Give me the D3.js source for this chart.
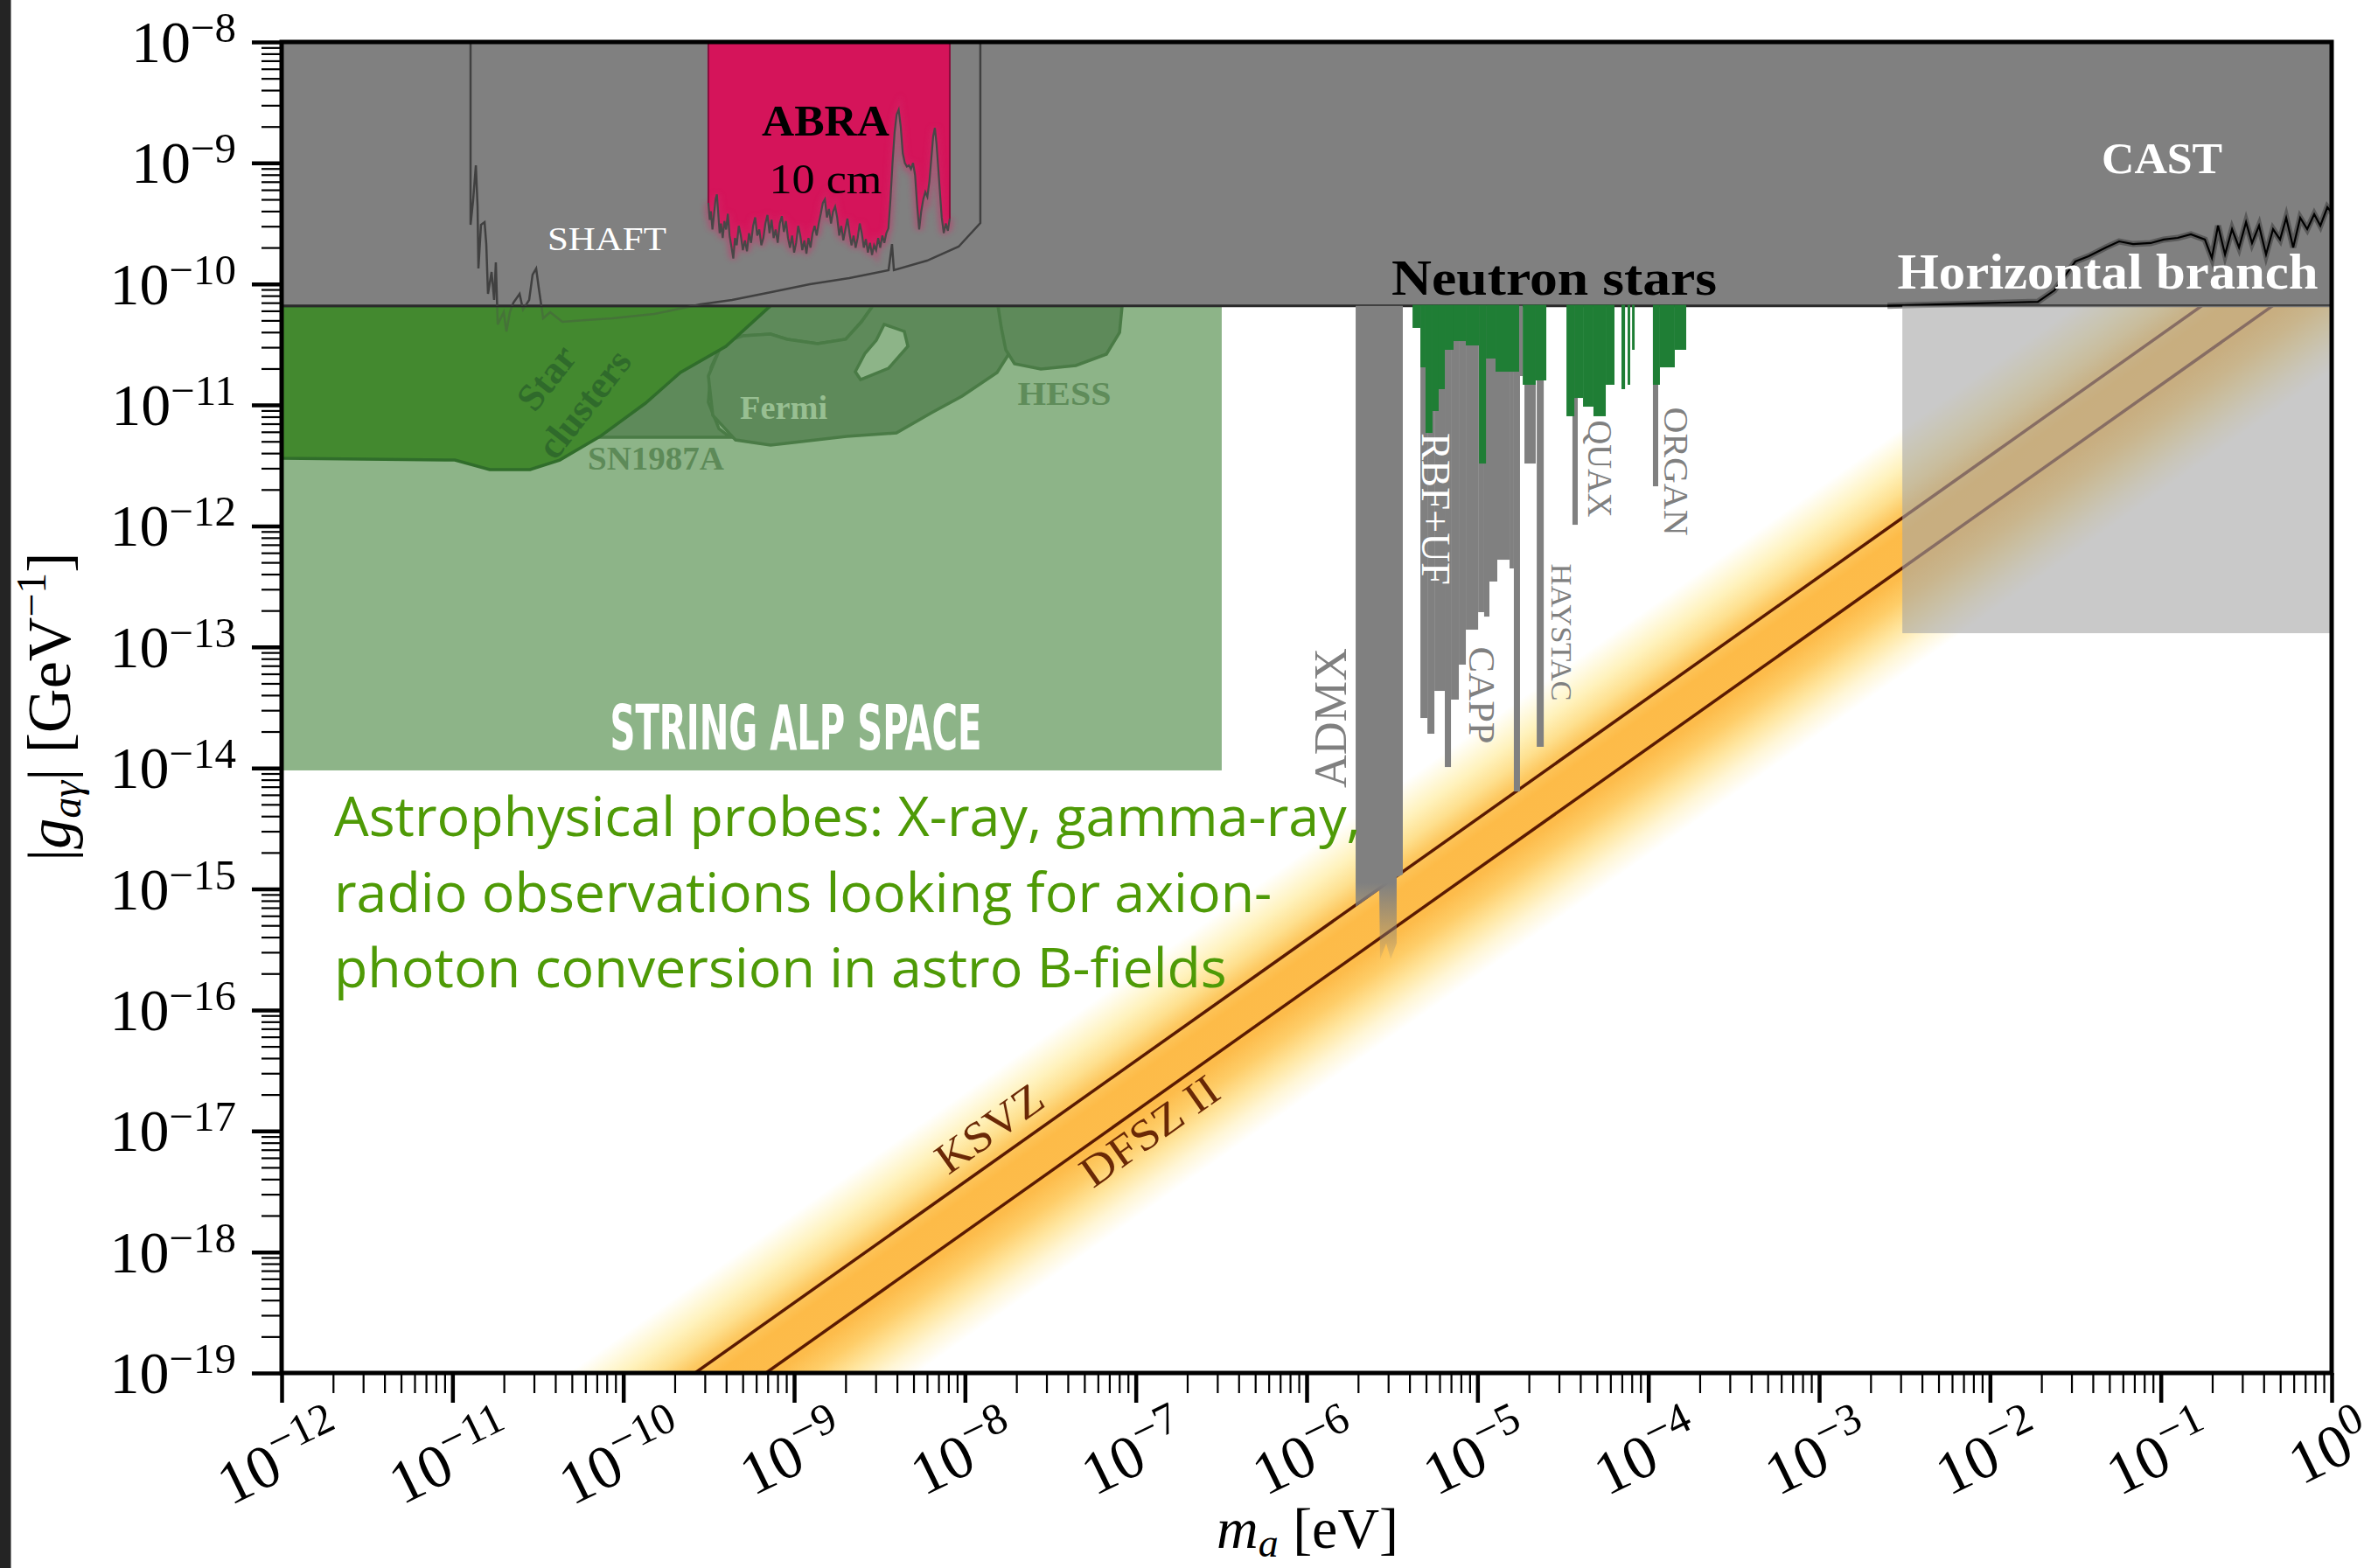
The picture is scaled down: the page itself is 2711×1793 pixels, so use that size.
<!DOCTYPE html>
<html><head><meta charset="utf-8">
<script src="https://cdn.jsdelivr.net/npm/d3@7"></script>
<style>
html,body{margin:0;padding:0;background:#fff;}
svg{display:block;}
</style></head>
<body>
<svg id="chart" width="2711" height="1793"></svg>
<script>
// ---------------------------------------------------------------
// Axion-photon coupling vs. axion mass.
// All curves are stored as [log10(m_a / eV), log10(|g| / GeV^-1)].
// ---------------------------------------------------------------
const xTickExps = [-12,-11,-10,-9,-8,-7,-6,-5,-4,-3,-2,-1,0];
const yTickExps = [-8,-9,-10,-11,-12,-13,-14,-15,-16,-17,-18,-19];

const gLimit = -10.18;                 // CAST / horizontal-branch bound, 6.6e-11
const ksvzOffset = -9.42;              // log g = log m + offset
const dfszOffset = -9.835;
const qcdBandEdges = [-8.68, -10.72];  // outer fade edges of the QCD band

const shaftCurve = [
  [-10.894,-8],[-10.894,-9.511],[-10.879,-9.308],[-10.863,-9.019],[-10.853,-9.359],
  [-10.848,-9.872],[-10.833,-9.511],[-10.812,-9.489],[-10.802,-9.670],[-10.792,-10.082],
  [-10.771,-9.901],[-10.756,-10.132],[-10.746,-9.821],[-10.735,-10.335],[-10.700,-10.233],
  [-10.684,-10.392],[-10.664,-10.233],[-10.643,-10.154],[-10.607,-10.082],[-10.587,-10.212],
  [-10.551,-10.132],[-10.531,-9.923],[-10.510,-9.872],[-10.495,-10.031],[-10.469,-10.284],
  [-10.428,-10.233],[-10.357,-10.313],[-10.218,-10.298],[-10.065,-10.284],[-9.819,-10.248],
  [-9.548,-10.168],[-9.363,-10.132],[-9.133,-10.067],[-8.908,-10.002],[-8.677,-9.951],
  [-8.447,-9.886],[-8.427,-9.670],[-8.416,-9.886],[-8.222,-9.807],[-8.037,-9.691],
  [-7.910,-9.496],[-7.910,-8]
];

const abraCurve = [
  [-9.502,-9.33],[-9.494,-9.47],[-9.487,-9.40],[-9.478,-9.55],[-9.470,-9.44],[-9.460,-9.30],
  [-9.452,-9.26],[-9.444,-9.42],[-9.436,-9.58],[-9.428,-9.50],[-9.418,-9.62],[-9.408,-9.48],
  [-9.398,-9.55],[-9.388,-9.42],[-9.378,-9.60],[-9.366,-9.70],[-9.356,-9.79],[-9.346,-9.62],
  [-9.336,-9.68],[-9.324,-9.52],[-9.312,-9.60],[-9.300,-9.72],[-9.288,-9.64],[-9.276,-9.73],
  [-9.264,-9.58],[-9.252,-9.66],[-9.240,-9.52],[-9.228,-9.45],[-9.216,-9.60],[-9.204,-9.55],
  [-9.192,-9.68],[-9.180,-9.62],[-9.168,-9.50],[-9.156,-9.43],[-9.144,-9.58],[-9.132,-9.47],
  [-9.120,-9.62],[-9.108,-9.55],[-9.096,-9.66],[-9.084,-9.50],[-9.072,-9.44],[-9.060,-9.57],
  [-9.048,-9.48],[-9.036,-9.62],[-9.024,-9.70],[-9.012,-9.60],[-9.000,-9.74],[-8.988,-9.66],
  [-8.976,-9.52],[-8.964,-9.60],[-8.952,-9.72],[-8.940,-9.64],[-8.928,-9.75],[-8.916,-9.62],
  [-8.904,-9.70],[-8.892,-9.58],[-8.880,-9.52],[-8.868,-9.60],[-8.856,-9.50],[-8.844,-9.42],
  [-8.832,-9.33],[-8.820,-9.30],[-8.808,-9.45],[-8.796,-9.38],[-8.784,-9.50],[-8.772,-9.40],
  [-8.760,-9.36],[-8.748,-9.45],[-8.736,-9.60],[-8.724,-9.52],[-8.712,-9.64],[-8.700,-9.55],
  [-8.688,-9.46],[-8.676,-9.58],[-8.664,-9.68],[-8.652,-9.60],[-8.640,-9.70],[-8.628,-9.62],
  [-8.616,-9.50],[-8.604,-9.58],[-8.592,-9.70],[-8.580,-9.63],[-8.568,-9.74],[-8.556,-9.66],
  [-8.544,-9.76],[-8.532,-9.68],[-8.520,-9.72],[-8.508,-9.62],[-8.496,-9.70],[-8.484,-9.60],
  [-8.472,-9.66],[-8.460,-9.58],[-8.448,-9.54],[-8.436,-9.30],[-8.424,-9.00],[-8.412,-8.75],
  [-8.400,-8.60],[-8.388,-8.56],[-8.376,-8.70],[-8.364,-8.92],[-8.352,-9.00],[-8.340,-9.03],
  [-8.328,-9.02],[-8.316,-9.05],[-8.304,-9.00],[-8.292,-9.10],[-8.280,-9.35],[-8.268,-9.55],
  [-8.256,-9.40],[-8.244,-9.30],[-8.232,-9.24],[-8.220,-9.28],[-8.208,-9.15],[-8.196,-8.95],
  [-8.186,-8.78],[-8.176,-8.71],[-8.166,-8.85],[-8.156,-9.05],[-8.146,-9.25],[-8.136,-9.45],
  [-8.124,-9.58],[-8.112,-9.50],[-8.100,-9.56],[-8.089,-9.46]
];

const castCurve = [
  [-2.6,-10.18],[-1.720,-10.147],[-1.623,-10.053],[-1.500,-9.814],[-1.423,-9.771],
  [-1.321,-9.698],[-1.244,-9.648],[-1.162,-9.670],[-1.060,-9.662],[-0.983,-9.633],
  [-0.901,-9.619],[-0.824,-9.590],[-0.742,-9.633],[-0.701,-9.785],[-0.665,-9.518],
  [-0.624,-9.756],[-0.583,-9.547],[-0.542,-9.698],[-0.501,-9.489],[-0.466,-9.662],
  [-0.425,-9.518],[-0.384,-9.756],[-0.343,-9.547],[-0.302,-9.633],[-0.266,-9.453],
  [-0.225,-9.698],[-0.184,-9.453],[-0.143,-9.547],[-0.102,-9.424],[-0.066,-9.518],
  [-0.025,-9.366],[0,-9.409]
];

const admxOutline = [
  [-5.713,-10.18],[-5.437,-10.18],[-5.437,-14.881],[-5.473,-14.902],[-5.473,-15.45],
  [-5.508,-15.58],[-5.534,-15.45],[-5.570,-15.58],[-5.575,-15.011],[-5.713,-15.148]
];

// haloscope exclusions hanging from the astrophysical bound: [log m lo, log m hi, log g min]
const haloscopeBars = [
  [-5.334,-5.293,-13.587],[-5.293,-5.252,-13.717],[-5.252,-5.191,-13.363],
  [-5.191,-5.155,-13.992],[-5.155,-5.109,-13.435],[-5.109,-5.068,-13.146],
  [-5.068,-4.996,-12.857],[-4.996,-4.961,-12.712],[-4.961,-4.930,-12.749],
  [-4.930,-4.884,-12.459],[-4.884,-4.812,-12.279],[-4.812,-4.787,-12.351],
  [-4.787,-4.751,-14.194],[-4.751,-4.735,-10.761],[-4.725,-4.659,-11.484],
  [-4.653,-4.612,-13.825],[-4.444,-4.413,-11.990],[-3.973,-3.942,-11.672]
];

// neutron-star radio searches
const neutronStarBars = [
  [-5.380,-5.334,-10.363],[-5.334,-5.304,-10.689],[-5.304,-5.263,-11.231],
  [-5.263,-5.227,-11.050],[-5.227,-5.191,-10.869],[-5.191,-5.140,-10.544],
  [-5.140,-5.068,-10.472],[-5.068,-4.991,-10.508],[-4.991,-4.950,-11.484],
  [-4.950,-4.894,-10.616],[-4.894,-4.756,-10.725],[-4.735,-4.659,-10.833],
  [-4.659,-4.597,-10.797],[-4.479,-4.433,-11.093],[-4.433,-4.382,-10.942],
  [-4.382,-4.321,-11.014],[-4.321,-4.249,-11.093],[-4.249,-4.198,-10.833],
  [-4.157,-4.136,-10.869],[-4.121,-4.106,-10.833],[-4.095,-4.080,-10.544],
  [-3.973,-3.932,-10.833],[-3.932,-3.845,-10.689],[-3.845,-3.778,-10.544]
];

const starClusters = [
  [-12,-10.18],[-9.138,-10.18],[-9.399,-10.515],[-9.666,-10.732],[-9.870,-10.985],
  [-10.136,-11.260],[-10.372,-11.455],[-10.546,-11.534],[-10.782,-11.534],
  [-10.986,-11.455],[-12,-11.44]
];
const sn1987a = [
  [-10.782,-10.18],[-8.539,-10.18],[-8.606,-10.313],[-8.698,-10.457],[-8.862,-10.494],
  [-9.041,-10.457],[-9.138,-10.414],[-9.297,-10.428],[-9.420,-10.486],[-9.486,-10.689],
  [-9.502,-10.978],[-9.440,-11.195],[-9.374,-11.267],[-10.782,-11.267]
];
const fermi = [
  [-9.420,-10.486],[-9.297,-10.428],[-9.138,-10.414],[-9.041,-10.457],[-8.862,-10.494],
  [-8.698,-10.457],[-8.606,-10.313],[-8.539,-10.18],[-7.710,-10.18],[-7.633,-10.327],
  [-7.715,-10.515],[-7.812,-10.732],[-8.017,-10.927],[-8.196,-11.064],[-8.401,-11.231],
  [-8.693,-11.260],[-9.138,-11.332],[-9.343,-11.289],[-9.476,-11.086],[-9.502,-10.761]
];
const fermiHole = [
  [-8.473,-10.334],[-8.355,-10.392],[-8.334,-10.515],[-8.447,-10.696],
  [-8.611,-10.790],[-8.642,-10.725],[-8.585,-10.573],[-8.519,-10.465]
];
const hess = [
  [-7.807,-10.18],[-7.080,-10.18],[-7.095,-10.400],[-7.172,-10.580],[-7.351,-10.674],
  [-7.556,-10.703],[-7.710,-10.660],[-7.761,-10.544],[-7.787,-10.363]
];

const stringAlpM = [-12, -6.497];
const stringAlpG = [-14.02, gLimit];
const horizBranchM = [-2.513, 0];
const horizBranchG = [-12.886, gLimit];

// ---------------------------------------------------------------
const SERIF = "'Liberation Serif','DejaVu Serif',serif";
const svg = d3.select("#chart");
const L = 322, R = 2666, T = 48, B = 1570;

const x = d3.scaleLog().domain([1e-12, 1]).range([L, R]);
const y = d3.scaleLog().domain([1e-19, 1e-8]).range([B, T]);
const X = v => x(Math.pow(10, v));
const Y = v => y(Math.pow(10, v));
const line = d3.line().x(d => X(d[0])).y(d => Y(d[1]));
const poly = pts => line(pts) + "Z";

svg.append("rect").attr("width", 2711).attr("height", 1793).attr("fill", "#fff");
svg.append("rect").attr("width", 12.5).attr("height", 1793).attr("fill", "#242424");

const defs = svg.append("defs");
defs.append("clipPath").attr("id", "plotClip").append("rect")
  .attr("x", L).attr("y", T).attr("width", R - L).attr("height", B - T);
defs.append("clipPath").attr("id", "aboveClip").append("rect")
  .attr("x", L).attr("y", T).attr("width", R - L).attr("height", Y(gLimit) - T);
defs.append("clipPath").attr("id", "belowClip").append("rect")
  .attr("x", L).attr("y", Y(gLimit)).attr("width", R - L).attr("height", B - Y(gLimit));
defs.append("filter").attr("id", "soft").attr("x", "-20%").attr("y", "-20%")
  .attr("width", "140%").attr("height", "140%")
  .append("feGaussianBlur").attr("stdDeviation", 3);

// fade at the tip of the ADMX spikes
{
  const fade = defs.append("linearGradient").attr("id", "admxFade")
    .attr("gradientUnits", "userSpaceOnUse")
    .attr("x1", 0).attr("x2", 0).attr("y1", Y(-14.95)).attr("y2", Y(-15.58));
  fade.append("stop").attr("offset", 0).attr("stop-color", "#808080").attr("stop-opacity", 1);
  fade.append("stop").attr("offset", 1).attr("stop-color", "#808080").attr("stop-opacity", 0.15);
}

// QCD band gradient, perpendicular to the model lines
{
  const ax = X(-6), ay = Y(-6 + qcdBandEdges[0]);
  const dx = X(-5) - X(-6), dy = Y(-5 + ksvzOffset) - Y(-6 + ksvzOffset);
  const len = Math.hypot(dx, dy);
  const nx = -dy / len, ny = dx / len;
  const vert = Y(-6 + qcdBandEdges[1]) - Y(-6 + qcdBandEdges[0]);
  const dist = vert * ny;
  const grad = defs.append("linearGradient").attr("id", "qcdGrad")
    .attr("gradientUnits", "userSpaceOnUse")
    .attr("x1", ax).attr("y1", ay).attr("x2", ax + nx * dist).attr("y2", ay + ny * dist);
  const c0 = qcdBandEdges[0], c1 = qcdBandEdges[1];
  const stops = [
    [c0, "#ffffff"], [-8.82, "#fffae2"], [-9.00, "#fff2bc"], [-9.20, "#fee08f"],
    [-9.36, "#fdc962"], [-9.55, "#fdbb48"], [-9.90, "#fdbc4b"], [-10.10, "#fecd68"],
    [-10.32, "#ffe6a0"], [-10.52, "#fff6d6"], [c1, "#ffffff"]
  ];
  stops.forEach(([c, col]) => grad.append("stop")
    .attr("offset", (c0 - c) / (c0 - c1)).attr("stop-color", col));
}

const plotG = svg.append("g").attr("clip-path", "url(#plotClip)");

// QCD axion band and model lines
plotG.append("path").attr("fill", "url(#qcdGrad)")
  .attr("d", poly([[-19 - qcdBandEdges[0], -19], [0, qcdBandEdges[0]],
                   [0, qcdBandEdges[1]], [-19 - qcdBandEdges[1], -19]]));
[ksvzOffset, dfszOffset].forEach(c => {
  plotG.append("path").attr("fill", "none").attr("stroke", "#5a1a02").attr("stroke-width", 3.5)
    .attr("d", line([[-19 - c, -19], [0, c]]));
});

// astrophysical ALP regions
plotG.append("rect").attr("fill", "#8db488")
  .attr("x", X(stringAlpM[0])).attr("width", X(stringAlpM[1]) - X(stringAlpM[0]))
  .attr("y", Y(stringAlpG[1])).attr("height", Y(stringAlpG[0]) - Y(stringAlpG[1]));

const midGreen = "#5e8a5a", edgeGreen = "#4a7b46";
plotG.append("path").attr("d", poly(sn1987a)).attr("fill", midGreen)
  .attr("stroke", edgeGreen).attr("stroke-width", 3.5);
plotG.append("path").attr("d", poly(fermi)).attr("fill", midGreen)
  .attr("stroke", edgeGreen).attr("stroke-width", 3.5);
plotG.append("path").attr("d", poly(fermiHole)).attr("fill", "#8db488")
  .attr("stroke", edgeGreen).attr("stroke-width", 3.5);
plotG.append("path").attr("d", poly(hess)).attr("fill", midGreen)
  .attr("stroke", edgeGreen).attr("stroke-width", 3.5);
plotG.append("path").attr("d", poly(starClusters)).attr("fill", "#43892f")
  .attr("stroke", "#306d2b").attr("stroke-width", 3.5);

// SHAFT seen through the astrophysical regions
plotG.append("g").attr("clip-path", "url(#belowClip)").append("path")
  .attr("d", line(shaftCurve)).attr("fill", "none")
  .attr("stroke", "#4a4a4a").attr("stroke-width", 2.5).attr("opacity", 0.35);

// grey band excluded by CAST / horizontal branch
plotG.append("rect").attr("x", L).attr("y", T).attr("width", R - L)
  .attr("height", Y(gLimit) - T).attr("fill", "#808080");
plotG.append("line").attr("x1", L).attr("x2", R).attr("y1", Y(gLimit)).attr("y2", Y(gLimit))
  .attr("stroke", "#2a2a2a").attr("stroke-width", 3);

// ABRA 10 cm
plotG.append("path").attr("fill", "#d5145a")
  .attr("d", poly(abraCurve.concat([[-8.089, -8], [-9.502, -8]])));
plotG.append("g").attr("clip-path", "url(#aboveClip)").append("path")
  .attr("fill", "none").attr("stroke", "#d02a68").attr("stroke-width", 9)
  .attr("opacity", 0.45).attr("filter", "url(#soft)").attr("d", line(abraCurve));
plotG.append("path").attr("fill", "none").attr("stroke", "#8a0c3c").attr("stroke-width", 2)
  .attr("d", line([[-9.502, -8], abraCurve[0]]));
plotG.append("path").attr("fill", "none").attr("stroke", "#8a0c3c").attr("stroke-width", 2)
  .attr("d", line([[-8.089, -8], abraCurve[abraCurve.length - 1]]));
plotG.append("path").attr("fill", "none").attr("stroke", "#474747").attr("stroke-width", 2.2)
  .attr("d", line(abraCurve));

// SHAFT inside the grey band
plotG.append("g").attr("clip-path", "url(#aboveClip)").append("path")
  .attr("d", line(shaftCurve)).attr("fill", "none")
  .attr("stroke", "#404040").attr("stroke-width", 2.5);

// CAST
plotG.append("path").attr("d", line(castCurve)).attr("fill", "none")
  .attr("stroke", "#333").attr("stroke-width", 7).attr("opacity", 0.5);
plotG.append("path").attr("d", line(castCurve)).attr("fill", "none")
  .attr("stroke", "#000").attr("stroke-width", 2.2);

// haloscopes
plotG.append("path").attr("d", poly(admxOutline)).attr("fill", "url(#admxFade)");
plotG.selectAll(".halo").data(haloscopeBars).join("rect")
  .attr("fill", "#808080")
  .attr("x", d => X(d[0])).attr("width", d => X(d[1]) - X(d[0]))
  .attr("y", Y(gLimit)).attr("height", d => Y(d[2]) - Y(gLimit));
plotG.selectAll(".ns").data(neutronStarBars).join("rect")
  .attr("fill", "#1f7e35")
  .attr("x", d => X(d[0])).attr("width", d => X(d[1]) - X(d[0]))
  .attr("y", Y(gLimit) - 1).attr("height", d => Y(d[2]) - Y(gLimit) + 1);

// horizontal branch (translucent)
plotG.append("rect").attr("fill", "#a5a5a5").attr("opacity", 0.6)
  .attr("x", X(horizBranchM[0])).attr("width", X(horizBranchM[1]) - X(horizBranchM[0]))
  .attr("y", Y(horizBranchG[1])).attr("height", Y(horizBranchG[0]) - Y(horizBranchG[1]));

// ---------------- labels ----------------
function addLabel(o) {
  const t = svg.append("text")
    .attr("transform", `translate(${X(o.at[0])},${Y(o.at[1])}) rotate(${o.rot || 0})`)
    .attr("text-anchor", o.anchor || "middle")
    .attr("font-family", o.family || SERIF)
    .attr("font-size", o.size)
    .attr("font-weight", o.weight || "normal")
    .attr("font-style", o.style || "normal")
    .attr("fill", o.fill)
    .text(o.text);
  if (o.mid) t.attr("dominant-baseline", "central");
  if (o.width) t.attr("textLength", o.width).attr("lengthAdjust", "spacingAndGlyphs");
  return t;
}

addLabel({text: "SHAFT", at: [-10.096, -9.720], size: 38, fill: "#fff", width: 136});
addLabel({text: "ABRA", at: [-8.816, -8.773], size: 51, weight: "bold", fill: "#000", width: 146});
addLabel({text: "10 cm", at: [-8.816, -9.250], size: 48, fill: "#000", width: 129});
addLabel({text: "CAST", at: [-0.993, -9.081], size: 50, weight: "bold", fill: "#fff", width: 138});
addLabel({text: "Neutron stars", at: [-4.551, -10.089], size: 58, weight: "bold", fill: "#000", width: 372});
addLabel({text: "Horizontal branch", at: [-1.310, -10.038], size: 57, weight: "bold", fill: "#fff", width: 481});

addLabel({text: "Star", at: [-10.449, -10.775], size: 44, weight: "bold", fill: "#2f6a2b", rot: -52, mid: true});
addLabel({text: "clusters", at: [-10.229, -10.992], size: 44, weight: "bold", fill: "#2f6a2b", rot: -52, mid: true});
addLabel({text: "SN1987A", at: [-9.809, -11.534], size: 38, weight: "bold", fill: "#5d8a58", width: 156});
addLabel({text: "Fermi", at: [-9.061, -11.115], size: 38, weight: "bold", fill: "#98bf92", width: 100});
addLabel({text: "HESS", at: [-7.418, -10.999], size: 38, weight: "bold", fill: "#5f8c5a", width: 107});

addLabel({text: "STRING ALP SPACE", at: [-8.990, -13.847], size: 72, weight: "bold",
  family: "'Liberation Sans Narrow','DejaVu Sans Condensed','Liberation Sans',sans-serif",
  fill: "#fff", width: 425});

addLabel({text: "ADMX", at: [-5.857, -13.587], size: 52, fill: "#808080", rot: -90, mid: true, width: 160});
addLabel({text: "RBF+UF", at: [-5.247, -11.859], size: 46, fill: "#fff", rot: 90, mid: true, width: 174});
addLabel({text: "CAPP", at: [-4.976, -13.399], size: 42, fill: "#808080", rot: 90, mid: true, width: 111});
addLabel({text: "HAYSTAC", at: [-4.510, -12.879], size: 34, fill: "#808080", rot: 90, mid: true, width: 157});
addLabel({text: "QUAX", at: [-4.280, -11.527], size: 40, fill: "#808080", rot: 90, mid: true, width: 111});
addLabel({text: "ORGAN", at: [-3.839, -11.549], size: 40, fill: "#808080", rot: 90, mid: true, width: 147});

// model labels follow the slope of the lines
const slopeDeg = Math.atan2(Y(-5 + ksvzOffset) - Y(-6 + ksvzOffset), X(-5) - X(-6)) * 180 / Math.PI;
addLabel({text: "KSVZ", at: [-7.858, -16.977], size: 50, fill: "#6a2806", rot: slopeDeg, mid: true, width: 139});
addLabel({text: "DFSZ II", at: [-6.921, -16.998], size: 50, fill: "#6a2806", rot: slopeDeg, mid: true, width: 182});

// probe description
{
  const lines = ["Astrophysical probes: X-ray, gamma-ray,",
                 "radio observations looking for axion-",
                 "photon conversion in astro B-fields"];
  const baseG = [-14.563, -15.191, -15.813];
  const txts = lines.map((s, i) => svg.append("text")
    .attr("x", X(-11.693)).attr("y", Y(baseG[i]))
    .attr("font-family", "'Open Sans','Noto Sans',sans-serif")
    .attr("font-size", 56).attr("fill", "#4e9a06").text(s));
  const w = txts[0].node().getComputedTextLength();
  const fs = 56 * 1174 / w;
  txts.forEach(t => t.attr("font-size", fs));
}

// ---------------- axes ----------------
const minorX = [], minorY = [];
xTickExps.slice(0, -1).forEach(e => { for (let k = 2; k <= 9; k++) minorX.push(k * Math.pow(10, e)); });
yTickExps.slice(1).forEach(e => { for (let k = 2; k <= 9; k++) minorY.push(k * Math.pow(10, e)); });

function styleAxis(g, w) {
  g.select(".domain").remove();
  g.selectAll("line").attr("stroke", "#000").attr("stroke-width", w);
  g.selectAll("text").remove();
}
svg.append("g").attr("transform", `translate(0,${B})`)
  .call(d3.axisBottom(x).tickValues(minorX).tickSize(23)).call(g => styleAxis(g, 2.2));
svg.append("g").attr("transform", `translate(0,${B})`)
  .call(d3.axisBottom(x).tickValues(xTickExps.map(e => Math.pow(10, e))).tickSize(34)).call(g => styleAxis(g, 4.5));
svg.append("g").attr("transform", `translate(${L},0)`)
  .call(d3.axisLeft(y).tickValues(minorY).tickSize(23)).call(g => styleAxis(g, 2.2));
svg.append("g").attr("transform", `translate(${L},0)`)
  .call(d3.axisLeft(y).tickValues(yTickExps.map(e => Math.pow(10, e))).tickSize(34)).call(g => styleAxis(g, 4.5));

svg.append("rect").attr("x", L).attr("y", T).attr("width", R - L).attr("height", B - T)
  .attr("fill", "none").attr("stroke", "#000").attr("stroke-width", 5);

function powerText(t, e, size, raise) {
  t.append("tspan").text("10");
  t.append("tspan").attr("dy", -raise).attr("font-size", size * 0.72)
    .text(e < 0 ? "\u2212" + (-e) : String(e));
}

// y tick labels
yTickExps.forEach(e => {
  const t = svg.append("text").attr("x", 270).attr("y", Y(e) + 23)
    .attr("text-anchor", "end").attr("font-family", SERIF).attr("font-size", 68).attr("fill", "#000");
  powerText(t, e, 68, 23);
});

// x tick labels, rotated
const rotDeg = 26, rot = rotDeg * Math.PI / 180;
xTickExps.forEach(e => {
  const g = svg.append("g");
  const t = g.append("text").attr("font-family", SERIF).attr("font-size", 70).attr("fill", "#000");
  powerText(t, e, 70, 27);
  const bb = t.node().getBBox();
  const cx = bb.x + bb.width / 2, cy = bb.y + bb.height / 2;
  const halfH = (bb.width * Math.sin(rot) + bb.height * Math.cos(rot)) / 2;
  g.attr("transform", `translate(${X(e) - 4},${1592 + halfH}) rotate(${-rotDeg}) translate(${-cx},${-cy})`);
});

// axis titles
{
  const t = svg.append("text").attr("x", 1495).attr("y", 1770).attr("text-anchor", "middle")
    .attr("font-family", SERIF).attr("font-size", 66).attr("fill", "#000");
  t.append("tspan").attr("font-style", "italic").text("m");
  t.append("tspan").attr("font-style", "italic").attr("font-size", 46).attr("dy", 10).text("a");
  t.append("tspan").attr("dy", -10).text(" [eV]");
}
{
  const t = svg.append("text").attr("transform", "translate(80,808) rotate(-90)")
    .attr("text-anchor", "middle").attr("font-family", SERIF).attr("font-size", 70).attr("fill", "#000");
  t.append("tspan").text("|");
  t.append("tspan").attr("font-style", "italic").text("g");
  t.append("tspan").attr("font-style", "italic").attr("font-size", 48).attr("dy", 12).text("a\u03b3");
  t.append("tspan").attr("dy", -12).text("| [GeV");
  t.append("tspan").attr("font-size", 48).attr("dy", -28).text("\u22121");
  t.append("tspan").attr("dy", 28).text("]");
}
</script>
</body></html>
